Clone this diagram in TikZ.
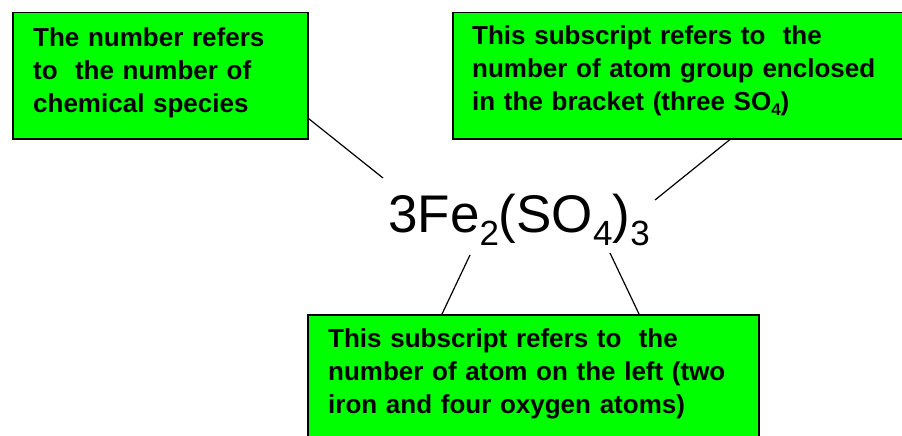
\documentclass[tikz,border=0pt]{standalone}
\usepackage{fontspec}
\setmainfont{Liberation Sans}
\usepackage{tikz}
\usetikzlibrary{calc}
\definecolor{notegreen}{RGB}{0, 255, 0}
\tikzset{
  notebox/.style={draw=black, line width=1.5pt, fill=notegreen, anchor=north west, inner sep=0pt},
  notetext/.style={anchor=base west, inner sep=0pt, text width=#1, align=left,
    font=\fontsize{26}{33}\selectfont\bfseries},
  pointer/.style={line width=1.2pt}
}
\newcommand{\formsub}[1]{\raisebox{-13pt}{\fontsize{35}{35}\selectfont #1}}
\newcommand{\notesub}[1]{\raisebox{-5pt}{\fontsize{17}{17}\selectfont #1}}

\begin{document}
\begin{tikzpicture}[x=1pt, y=-1pt]
    \useasboundingbox (0,0) rectangle (902,436);
    % green boxes
    \node[notebox, minimum width=295pt, minimum height=126pt] (countbox) at (12,12) {};
    \node[notebox, minimum width=460pt, minimum height=126pt] (groupbox) at (452,12) {};
    \node[notebox, minimum width=451pt, minimum height=140pt] (atombox) at (307,314) {};
    % box texts
    \node[notetext=260pt] (counttext) at (33,47) {The number refers\\ to\ \ the number of\\ chemical species};
    \node[notetext=420pt] (grouptext) at (472,45) {This subscript refers to\ \ the\\ number of atom group enclosed\\ in the bracket (three SO\notesub{4})};
    \node[notetext=420pt] (atomtext) at (328,347) {This subscript refers to\ \ the\\ number of atom on the left (two\\ iron and four oxygen atoms)};
    % the formula
    \node[anchor=base west, inner sep=0pt, font=\fontsize{53}{60}\selectfont] (formula) at (388,232) {3Fe\formsub{2}(SO\formsub{4})\formsub{3}};
    \coordinate (countend) at (383,178);
    \coordinate (groupend) at (655,200);
    \coordinate (feend) at (470,255);
    \coordinate (oxend) at (610,253);
    % pointers
    \draw[pointer] ($(countbox.south east)+(0,-21)$) -- (countend);
    \draw[pointer] ($(groupbox.south west)+(278,0)$) -- (groupend);
    \draw[pointer] ($(atombox.north west)+(135,0)$) -- (feend);
    \draw[pointer] ($(atombox.north west)+(332,0)$) -- (oxend);
\end{tikzpicture}
\end{document}
